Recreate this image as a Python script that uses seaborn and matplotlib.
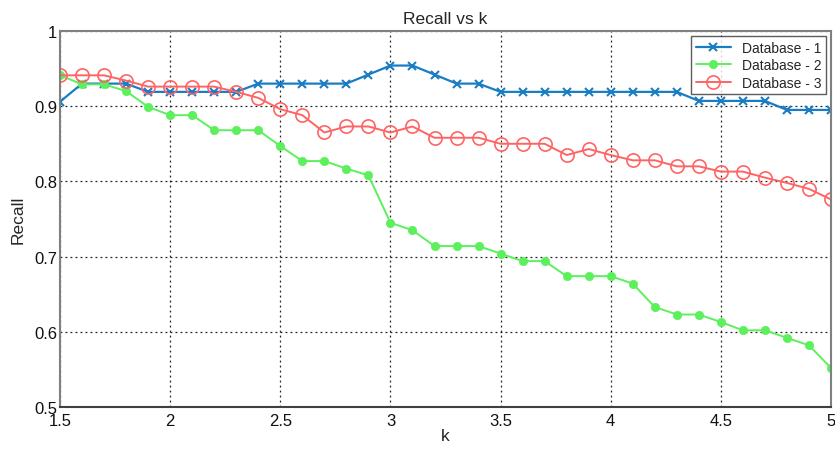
import numpy as np
import pandas as pd
import matplotlib
matplotlib.use("Agg")
import matplotlib.pyplot as plt
import seaborn as sns

k_values = [1.5, 1.6, 1.7, 1.8, 1.9, 2.0, 2.1, 2.2, 2.3, 2.4, 2.5, 2.6, 2.7, 2.8, 2.9, 3.0,
            3.1, 3.2, 3.3, 3.4, 3.5, 3.6, 3.7, 3.8, 3.9, 4.0, 4.1, 4.2, 4.3, 4.4, 4.5, 4.6,
            4.7, 4.8, 4.9, 5.0]
db1 = [0.906, 0.930, 0.930, 0.930, 0.919, 0.919, 0.919, 0.919, 0.919, 0.930, 0.930, 0.930,
       0.930, 0.930, 0.942, 0.954, 0.954, 0.942, 0.930, 0.930, 0.919, 0.919, 0.919, 0.919,
       0.919, 0.919, 0.919, 0.919, 0.919, 0.907, 0.907, 0.907, 0.907, 0.895, 0.895, 0.895]
db2 = [0.941, 0.929, 0.929, 0.920, 0.899, 0.888, 0.888, 0.868, 0.868, 0.868, 0.847, 0.827,
       0.827, 0.817, 0.808, 0.745, 0.735, 0.714, 0.714, 0.714, 0.704, 0.694, 0.694, 0.674,
       0.674, 0.674, 0.664, 0.633, 0.623, 0.623, 0.613, 0.602, 0.602, 0.592, 0.582, 0.552]
db3 = [0.941, 0.941, 0.941, 0.934, 0.926, 0.926, 0.926, 0.926, 0.919, 0.911, 0.896, 0.888,
       0.865, 0.873, 0.873, 0.865, 0.873, 0.858, 0.858, 0.858, 0.850, 0.850, 0.850, 0.835,
       0.843, 0.835, 0.828, 0.828, 0.820, 0.820, 0.813, 0.813, 0.805, 0.798, 0.790, 0.776]
series_names = ["Database - 1", "Database - 2", "Database - 3"]
x_ticks = [1.5, 2, 2.5, 3, 3.5, 4, 4.5, 5]
x_tick_labels = ["1.5", "2", "2.5", "3", "3.5", "4", "4.5", "5"]
y_ticks = [0.5, 0.6, 0.7, 0.8, 0.9, 1.0]
y_tick_labels = ["0.5", "0.6", "0.7", "0.8", "0.9", "1"]

sns.set_style("white")
plt.rcParams['font.family'] = ['Liberation Sans', 'DejaVu Sans']

fig = plt.figure(figsize=(8.35, 4.52), dpi=100)
ax = fig.add_axes([0.0719, 0.0973, 0.9233, 0.832])

blue = "#1a7dc4"
green = "#5cf05c"
red = "#ff6464"
styles = [
    dict(color=blue, marker="x", markersize=6, markeredgewidth=1.5,
         markeredgecolor=blue, linewidth=1.6),
    dict(color=green, marker="o", markersize=6, markeredgewidth=0.5,
         markeredgecolor=green, markerfacecolor=green, linewidth=1.4),
    dict(color=red, marker="o", markersize=9.5, markerfacecolor="none",
         markeredgecolor=red, markeredgewidth=1.2, linewidth=1.4),
]
for name, vals, st in zip(series_names, [db1, db2, db3], styles):
    df = pd.DataFrame({"k": k_values, "Recall": vals})
    sns.lineplot(data=df, x="k", y="Recall", ax=ax, label=name, **st)

ax.set_xlim(1.5, 5)
ax.set_ylim(0.5, 1.0)
ax.set_xticks(x_ticks)
ax.set_xticklabels(x_tick_labels)
ax.set_yticks(y_ticks)
ax.set_yticklabels(y_tick_labels)
ax.tick_params(axis="both", direction="in", length=4, labelsize=12, color="#333333",
               labelcolor="#111111")
ax.tick_params(axis="x", pad=4)
ax.tick_params(axis="y", pad=2)
ax.grid(True, linestyle=(0, (1.5, 2.5)), color="#222222", linewidth=0.9)
for side in ["left", "right", "top", "bottom"]:
    ax.spines[side].set_visible(True)
    ax.spines[side].set_color("#808080")
    ax.spines[side].set_linewidth(1.5)
ax.spines["bottom"].set_color("#404040")
ax.set_xlabel("k", fontsize=12.5, labelpad=0)
ax.set_ylabel("Recall", fontsize=12.5, labelpad=6)
ax.set_title("Recall vs k", fontsize=12.5, pad=6)

leg = ax.legend(loc="upper right", fontsize=10, frameon=True, fancybox=False,
                edgecolor="#333333", borderpad=0.35, labelspacing=0.25, handlelength=2.5,
                borderaxespad=0.35)
leg.get_frame().set_linewidth(1.0)

fig.savefig("out.png", dpi=100)
